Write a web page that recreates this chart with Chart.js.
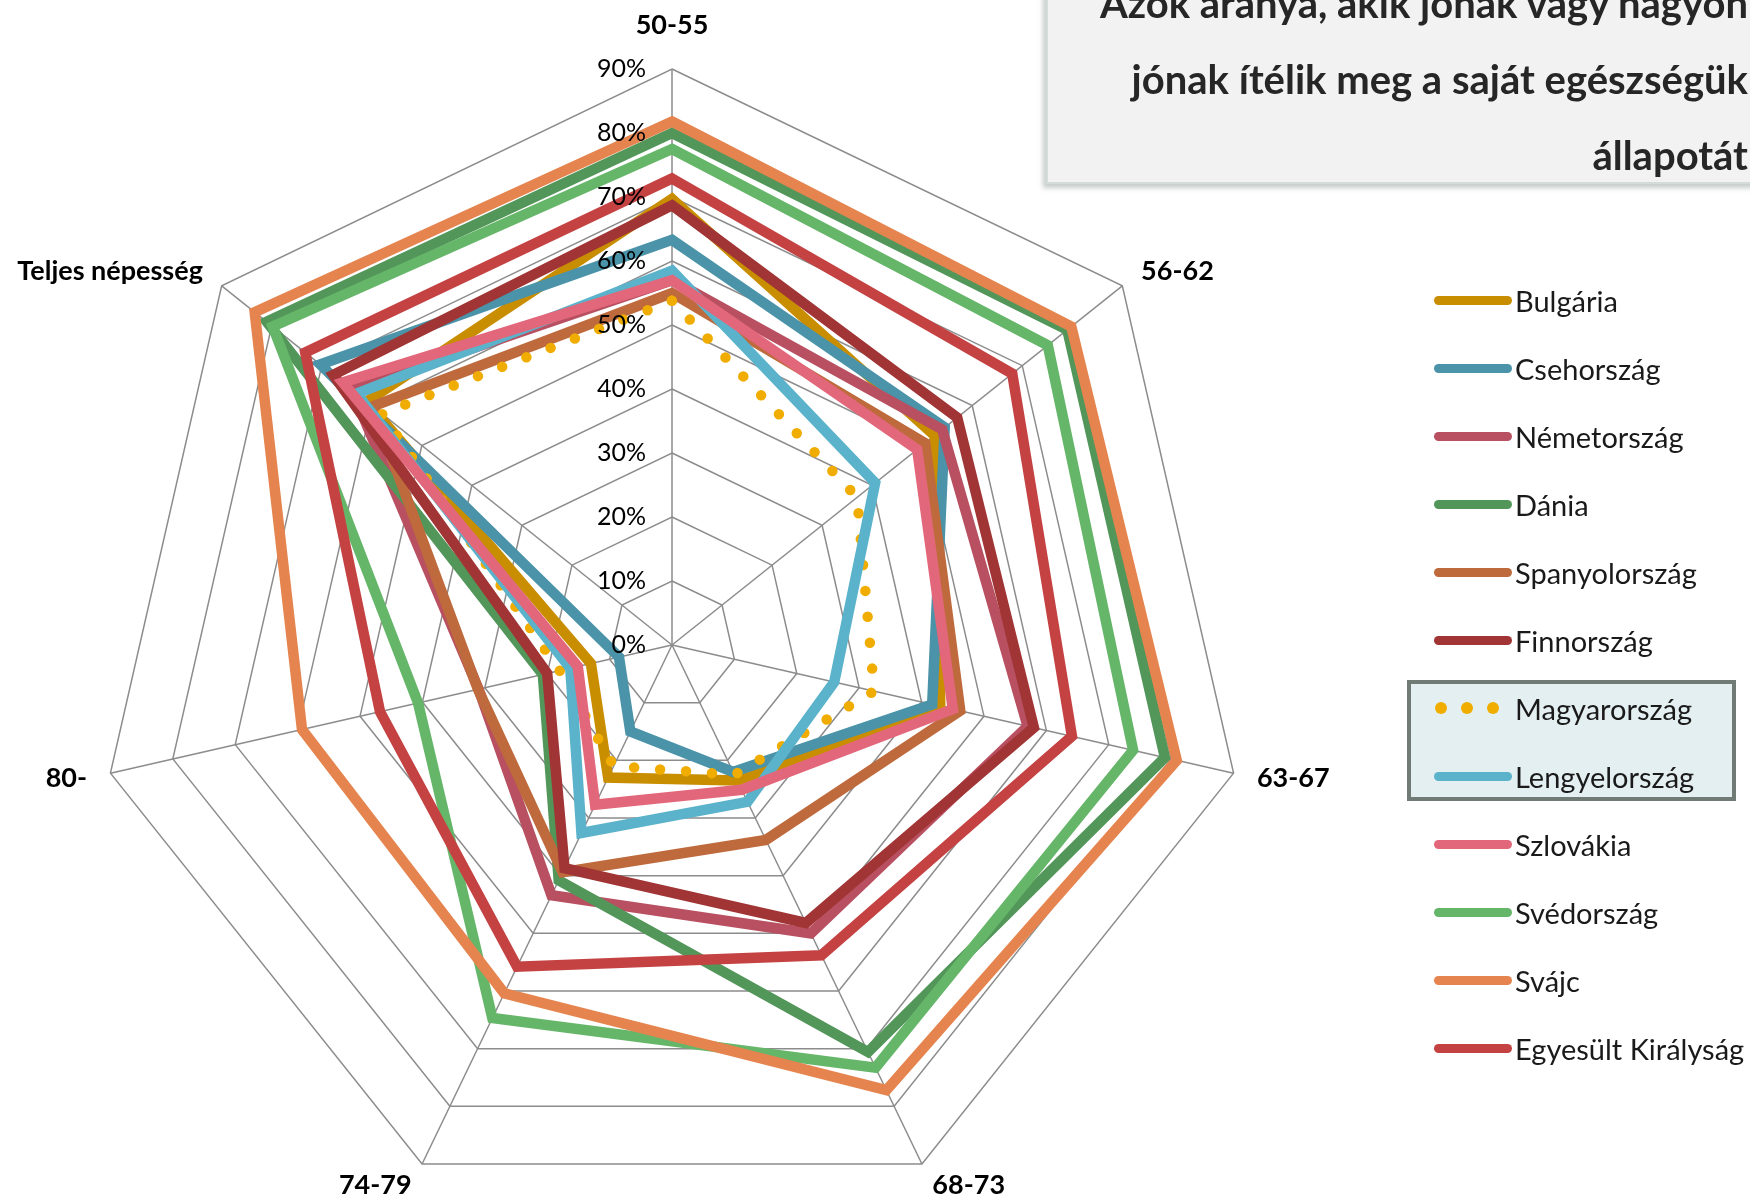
<!DOCTYPE html>
<html lang="hu">
<head>
<meta charset="utf-8">
<title>Egészségi állapot</title>
<script src="https://cdn.jsdelivr.net/npm/chart.js@4.4.1/dist/chart.umd.min.js"></script>
<style>
    html, body {
        margin: 0;
        padding: 0;
        width: 1750px;
        height: 1199px;
        overflow: hidden;
        background: #ffffff;
        font-family: Lato, 'Open Sans', sans-serif;
    }

    #chart-wrap {
        position: absolute;
        left: 0;
        top: 0;
        width: 1750px;
        height: 1260px;
    }

    .title-box {
        position: absolute;
        left: 1046px;
        top: -40px;
        width: 800px;
        height: 224px;
        box-sizing: border-box;
        background: #f2f2f2;
        border: 2px solid #d3dcd7;
        box-shadow: -3px 4px 5px rgba(90, 110, 100, 0.35);
    }

    .title-text {
        position: absolute;
        right: 96px;
        top: 3px;
        text-align: right;
        white-space: nowrap;
        font-weight: 700;
        font-size: 40px;
        line-height: 76px;
        color: #262626;
    }

    .legend-highlight {
        position: absolute;
        left: 1407px;
        top: 680px;
        width: 329px;
        height: 121px;
        box-sizing: border-box;
        background: #e4eff1;
        border: 4px solid #6f7b74;
    }

    #legend {
        position: absolute;
        left: 1407px;
        top: 266px;
        margin: 0;
        padding: 0;
        list-style: none;
    }

    #legend li {
        display: flex;
        align-items: center;
        height: 68px;
        font-size: 29px;
        color: #1a1a1a;
        white-space: nowrap;
    }

    #legend .swatch {
        width: 78px;
        height: 9px;
        margin-left: 27px;
        margin-right: 3px;
        border-radius: 5px;
    }

    #legend .dots {
        display: flex;
        justify-content: space-between;
        width: 64px;
        margin-left: 28px;
        margin-right: 16px;
    }

    #legend .dots span {
        width: 12px;
        height: 12px;
        border-radius: 50%;
    }
</style>
</head>
<body>
<div id="chart-wrap"><canvas id="radar" width="1750" height="1260"></canvas></div>
<div class="title-box">
    <div class="title-text">Azok aránya, akik jónak vagy nagyon<br>jónak ítélik meg a saját egészségük<br>állapotát</div>
</div>
<div class="legend-highlight"></div>
<ul id="legend"></ul>
<script>
const categories = ['50-55', '56-62', '63-67', '68-73', '74-79', '80-', 'Teljes népesség'];
const tickValues = [0, 10, 20, 30, 40, 50, 60, 70, 80, 90];

const countries = [
    'Bulgária', 'Csehország', 'Németország', 'Dánia', 'Spanyolország', 'Finnország',
    'Magyarország', 'Lengyelország', 'Szlovákia', 'Svédország', 'Svájc', 'Egyesült Királyság',
];
const colors = [
    '#c98e00', '#4a93a8', '#b85061', '#53965a', '#be6a3c', '#a13535',
    '#f0ad00', '#5bb2cb', '#e3677b', '#66b66a', '#e5844e', '#c54243',
];

// percent of people rating their health good / very good, per age group
const bulgaria = [69.7, 52.5, 43, 23.5, 23, 13, 61];
const czechia = [63.3, 54.5, 41.7, 22, 15, 8.5, 70.3];
const germany = [57, 54, 57, 50, 43.4, 31, 64];
const denmark = [80, 79, 79, 70.6, 40.8, 20.7, 81];
const spain = [55, 50.6, 46.2, 33.8, 39.4, 31.1, 59.8];
const finland = [68.7, 57, 58, 48.2, 38.7, 20, 67.7];
const hungary = [53.8, 37, 32.4, 22.5, 21, 18, 58];
const poland = [58.5, 40.6, 26, 27.2, 32.6, 16.3, 63];
const slovakia = [57, 49, 45, 25.1, 27.7, 15.1, 65.8];
const sweden = [77.5, 75.1, 73.9, 73.3, 64.7, 40.7, 79.8];
const switzerland = [81.8, 79.8, 80.9, 77.2, 60.4, 59.3, 83.4];
const unitedKingdom = [72.9, 68, 64.1, 53.8, 55.8, 46.8, 73.3];

const seriesValues = [
    bulgaria, czechia, germany, denmark, spain, finland,
    hungary, poland, slovakia, sweden, switzerland, unitedKingdom,
];

const DOTTED = 'Magyarország';

function buildDatasets() {
    return countries.map((name, i) => {
        const dataset = {
            label: name,
            data: seriesValues[i],
            borderColor: colors[i],
            backgroundColor: colors[i],
            borderWidth: 10.5,
            borderJoinStyle: 'miter',
            fill: false,
            pointRadius: 0,
            pointHoverRadius: 0,
            // later series sit on top, like the original
            order: countries.length - i,
        };

        if (name === DOTTED) {
            dataset.borderDash = [0, 26];
            dataset.borderCapStyle = 'round';
            dataset.borderJoinStyle = 'round';
        }

        return dataset;
    });
}

const radarLabels = {
    id: 'radarLabels',
    afterDatasetsDraw(chart) {
        const scale = chart.scales.r;
        const ctx = chart.ctx;

        ctx.save();

        // percent ticks, just left of the vertical axis
        ctx.font = '25px Lato, sans-serif';
        ctx.fillStyle = '#000000';
        ctx.textAlign = 'right';
        ctx.textBaseline = 'middle';
        tickValues.forEach((value) => {
            const y = scale.yCenter - scale.getDistanceFromCenterForValue(value);
            ctx.fillText(value + '%', scale.xCenter - 26, y);
        });

        // category labels around the outer ring
        ctx.font = 'bold 27px Lato, sans-serif';
        categories.forEach((label, i) => {
            const angle = scale.getIndexAngle(i);
            const sin = Math.sin(angle);
            const pos = scale.getPointPosition(i, scale.drawingArea + 24);

            ctx.textBaseline = 'middle';

            if (Math.abs(sin) < 0.01) {
                ctx.textAlign = 'center';
                ctx.fillText(label, pos.x, pos.y - 20);
                return;
            }

            ctx.textAlign = sin > 0 ? 'left' : 'right';
            ctx.fillText(label, pos.x, pos.y);
        });

        ctx.restore();
    },
};

function buildLegend() {
    const list = document.getElementById('legend');

    countries.forEach((name, i) => {
        const item = document.createElement('li');
        let marker;

        if (name === DOTTED) {
            marker = document.createElement('span');
            marker.className = 'dots';
            for (let d = 0; d < 3; d++) {
                const dot = document.createElement('span');
                dot.style.background = colors[i];
                marker.appendChild(dot);
            }
        } else {
            marker = document.createElement('span');
            marker.className = 'swatch';
            marker.style.background = colors[i];
        }

        const text = document.createElement('span');
        text.textContent = name;

        item.appendChild(marker);
        item.appendChild(text);
        list.appendChild(item);
    });
}

buildLegend();

new Chart(document.getElementById('radar'), {
    type: 'radar',
    data: {
        labels: categories,
        datasets: buildDatasets(),
    },
    options: {
        responsive: false,
        animation: false,
        layout: {
            padding: { left: 96, top: 69, right: 502, bottom: 39 },
        },
        plugins: {
            legend: { display: false },
            tooltip: { enabled: false },
        },
        scales: {
            r: {
                min: 0,
                max: 90,
                ticks: { stepSize: 10, display: false },
                pointLabels: { display: false },
                grid: { color: '#8c8c8c', lineWidth: 1.5 },
                angleLines: { color: '#8c8c8c', lineWidth: 1.5 },
            },
        },
    },
    plugins: [radarLabels],
});
</script>
</body>
</html>
